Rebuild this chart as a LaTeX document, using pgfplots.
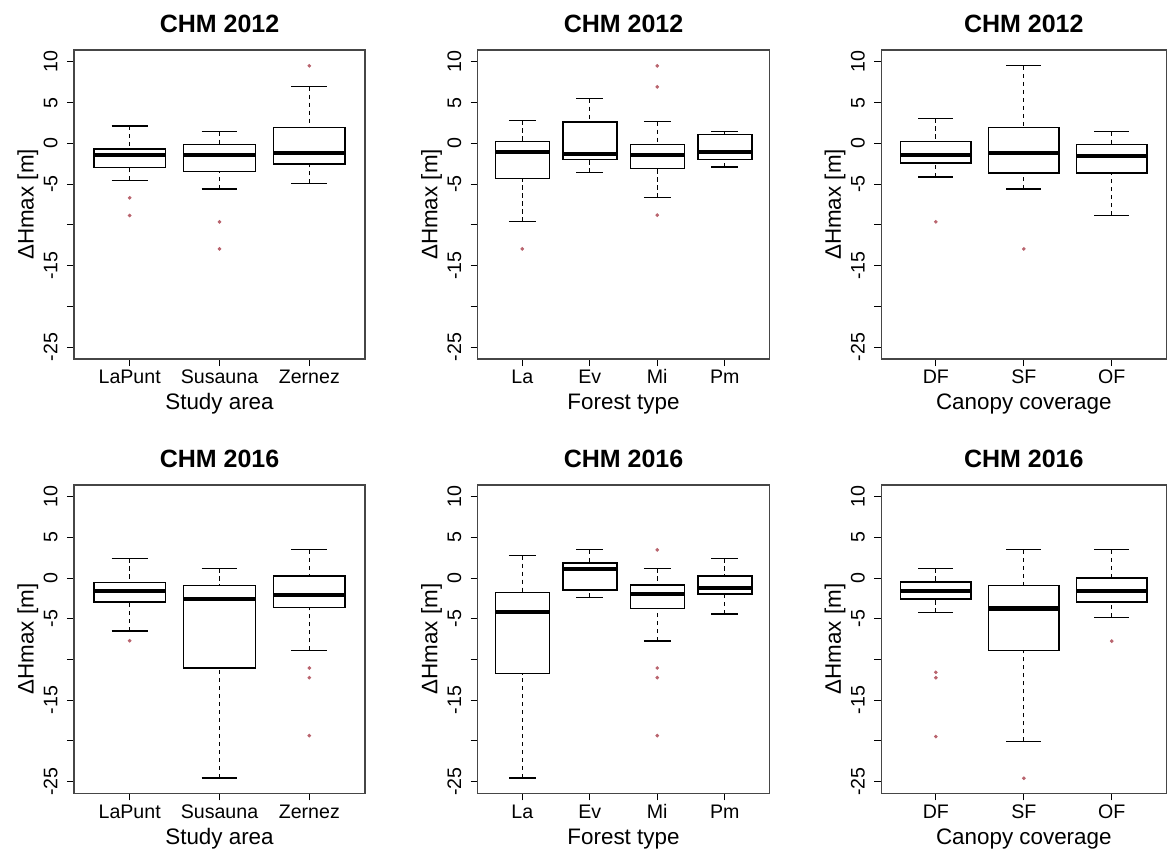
\documentclass[border=0pt]{standalone}
\usepackage{fontspec}
\setmainfont{Liberation Sans}
\usepackage{pgfplots}
\pgfplotsset{compat=1.18}
\usepgfplotslibrary{statistics}
\definecolor{outl}{RGB}{185,100,110}
\definecolor{framec}{RGB}{70,70,70}

\pgfplotsset{
  boxplot/draw direction=y,
  boxplot/box extend=0.8,
  boxplot/whisker extend=0.4,
  boxplot/every box/.style={line width=0.75pt},
  boxplot/every median/.style={line width=2.2pt},
  boxplot/draw/lower whisker/.code={%
    \draw[line width=0.55pt, dash pattern=on 2.2pt off 1.8pt]
      (boxplot box cs:\pgfplotsboxplotvalue{lower whisker},0.5) --
      (boxplot box cs:\pgfplotsboxplotvalue{lower quartile},0.5);
    \draw[line width=0.6pt, solid]
      (boxplot whisker cs:\pgfplotsboxplotvalue{lower whisker},0) --
      (boxplot whisker cs:\pgfplotsboxplotvalue{lower whisker},1);
  },
  boxplot/draw/upper whisker/.code={%
    \draw[line width=0.55pt, dash pattern=on 2.2pt off 1.8pt]
      (boxplot box cs:\pgfplotsboxplotvalue{upper whisker},0.5) --
      (boxplot box cs:\pgfplotsboxplotvalue{upper quartile},0.5);
    \draw[line width=0.6pt, solid]
      (boxplot whisker cs:\pgfplotsboxplotvalue{upper whisker},0) --
      (boxplot whisker cs:\pgfplotsboxplotvalue{upper whisker},1);
  },
  bx/.style={black, mark=*, mark size=0.7pt, mark options={draw=outl, fill=outl, solid}},
  rbox/.style={
    scale only axis, anchor=south west,
    width=145.5pt, height=154.5pt,
    ymin=-26.45, ymax=11.45,
    axis line style={draw=framec, line width=0.6pt},
    tick pos=left, tick align=outside, major tick length=3.6pt,
    every tick/.style={black, line width=0.5pt},
    ytick={-25,-20,-15,-10,-5,0,5,10},
    yticklabels={-25,,-15,,-5,0,5,10},
    tick label style={font=\fontsize{9.8}{10}\selectfont},
    yticklabel style={rotate=90, anchor=south, inner sep=0pt},
    xticklabel style={anchor=base, inner sep=0pt},
    yticklabel shift=4.4pt,
    xticklabel shift=8.9pt,
    every axis title/.style={at={(0.5,1)}, anchor=base, yshift=8.6pt,
      font=\bfseries\fontsize{12.5}{13}\selectfont},
    every axis x label/.style={at={(0.5,0)}, anchor=base, yshift=-25.5pt,
      font=\fontsize{11.2}{12}\selectfont},
    every axis y label/.style={at={(0,0.5)}, xshift=-20.2pt, rotate=90, anchor=base,
      font=\fontsize{11.2}{12}\selectfont},
    ylabel={ΔHmax [m]},
  },
  three/.style={rbox, xmin=0.38, xmax=3.62, xtick={1,2,3}},
  four/.style={rbox, xmin=0.34, xmax=4.66, xtick={1,2,3,4}},
}

\begin{document}
\begin{tikzpicture}
\path[use as bounding box] (0,0) rectangle (584pt,425pt);

% ---------- Row 1 ----------
\begin{axis}[three, at={(37pt,245.5pt)}, title={CHM 2012},
  xticklabels={LaPunt,Susauna,Zernez}, xlabel={Study area}]
\addplot[bx, boxplot prepared={draw position=1, lower whisker=-4.55, lower quartile=-2.95, median=-1.43, upper quartile=-0.70, upper whisker=2.13}]
  table[row sep=\\, y index=0]{y\\ -6.68\\ -8.85\\};
\addplot[bx, boxplot prepared={draw position=2, lower whisker=-5.61, lower quartile=-3.48, median=-1.43, upper quartile=-0.16, upper whisker=1.43}]
  table[row sep=\\, y index=0]{y\\ -9.63\\ -12.95\\};
\addplot[bx, boxplot prepared={draw position=3, lower whisker=-4.92, lower quartile=-2.54, median=-1.19, upper quartile=1.97, upper whisker=6.97}]
  table[row sep=\\, y index=0]{y\\ 9.51\\};
\end{axis}

\begin{axis}[four, at={(238.85pt,245.5pt)}, width=145.8pt, title={CHM 2012},
  xticklabels={La,Ev,Mi,Pm}, xlabel={Forest type}]
\addplot[bx, boxplot prepared={draw position=1, lower whisker=-9.59, lower quartile=-4.30, median=-1.07, upper quartile=0.20, upper whisker=2.83}]
  table[row sep=\\, y index=0]{y\\ -12.95\\};
\addplot[bx, boxplot prepared={draw position=2, lower whisker=-3.61, lower quartile=-2.01, median=-1.31, upper quartile=2.62, upper whisker=5.49}]
  coordinates {};
\addplot[bx, boxplot prepared={draw position=3, lower whisker=-6.68, lower quartile=-3.07, median=-1.43, upper quartile=-0.16, upper whisker=2.66}]
  table[row sep=\\, y index=0]{y\\ 9.51\\ 6.93\\ -8.81\\};
\addplot[bx, boxplot prepared={draw position=4, lower whisker=-2.91, lower quartile=-2.01, median=-1.07, upper quartile=1.07, upper whisker=1.43}]
  coordinates {};
\end{axis}

\begin{axis}[three, at={(440.65pt,245.5pt)}, width=142.5pt, title={CHM 2012},
  xticklabels={DF,SF,OF}, xlabel={Canopy coverage}]
\addplot[bx, boxplot prepared={draw position=1, lower whisker=-4.14, lower quartile=-2.42, median=-1.43, upper quartile=0.20, upper whisker=3.07}]
  table[row sep=\\, y index=0]{y\\ -9.63\\};
\addplot[bx, boxplot prepared={draw position=2, lower whisker=-5.61, lower quartile=-3.61, median=-1.19, upper quartile=1.97, upper whisker=9.51}]
  table[row sep=\\, y index=0]{y\\ -12.95\\};
\addplot[bx, boxplot prepared={draw position=3, lower whisker=-8.81, lower quartile=-3.61, median=-1.56, upper quartile=-0.16, upper whisker=1.43}]
  coordinates {};
\end{axis}

% ---------- Row 2 ----------
\begin{axis}[three, at={(37pt,28.35pt)}, height=154.15pt, title={CHM 2016},
  xticklabels={LaPunt,Susauna,Zernez}, xlabel={Study area}]
\addplot[bx, boxplot prepared={draw position=1, lower whisker=-6.51, lower quartile=-2.95, median=-1.56, upper quartile=-0.53, upper whisker=2.42}]
  table[row sep=\\, y index=0]{y\\ -7.70\\};
\addplot[bx, boxplot prepared={draw position=2, lower whisker=-24.56, lower quartile=-11.05, median=-2.54, upper quartile=-0.90, upper whisker=1.19}]
  coordinates {};
\addplot[bx, boxplot prepared={draw position=3, lower whisker=-8.88, lower quartile=-3.60, median=-2.05, upper quartile=0.25, upper whisker=3.48}]
  table[row sep=\\, y index=0]{y\\ -11.05\\ -12.24\\ -19.36\\};
\end{axis}

\begin{axis}[four, at={(238.85pt,28.35pt)}, width=145.8pt, height=154.15pt, title={CHM 2016},
  xticklabels={La,Ev,Mi,Pm}, xlabel={Forest type}]
\addplot[bx, boxplot prepared={draw position=1, lower whisker=-24.56, lower quartile=-11.75, median=-4.13, upper quartile=-1.76, upper whisker=2.78}]
  coordinates {};
\addplot[bx, boxplot prepared={draw position=2, lower whisker=-2.37, lower quartile=-1.47, median=1.11, upper quartile=1.84, upper whisker=3.48}]
  coordinates {};
\addplot[bx, boxplot prepared={draw position=3, lower whisker=-7.74, lower quartile=-3.72, median=-1.96, upper quartile=-0.82, upper whisker=1.19}]
  table[row sep=\\, y index=0]{y\\ 3.48\\ -11.05\\ -12.24\\ -19.36\\};
\addplot[bx, boxplot prepared={draw position=4, lower whisker=-4.42, lower quartile=-1.96, median=-1.19, upper quartile=0.25, upper whisker=2.42}]
  coordinates {};
\end{axis}

\begin{axis}[three, at={(440.65pt,28.35pt)}, width=142.5pt, height=154.15pt, title={CHM 2016},
  xticklabels={DF,SF,OF}, xlabel={Canopy coverage}]
\addplot[bx, boxplot prepared={draw position=1, lower whisker=-4.26, lower quartile=-2.54, median=-1.56, upper quartile=-0.45, upper whisker=1.19}]
  table[row sep=\\, y index=0]{y\\ -11.58\\ -12.24\\ -19.48\\};
\addplot[bx, boxplot prepared={draw position=2, lower whisker=-20.06, lower quartile=-8.88, median=-3.72, upper quartile=-0.90, upper whisker=3.48}]
  table[row sep=\\, y index=0]{y\\ -24.60\\};
\addplot[bx, boxplot prepared={draw position=3, lower whisker=-4.83, lower quartile=-2.95, median=-1.56, upper quartile=0.0, upper whisker=3.48}]
  table[row sep=\\, y index=0]{y\\ -7.74\\};
\end{axis}
\end{tikzpicture}
\end{document}
